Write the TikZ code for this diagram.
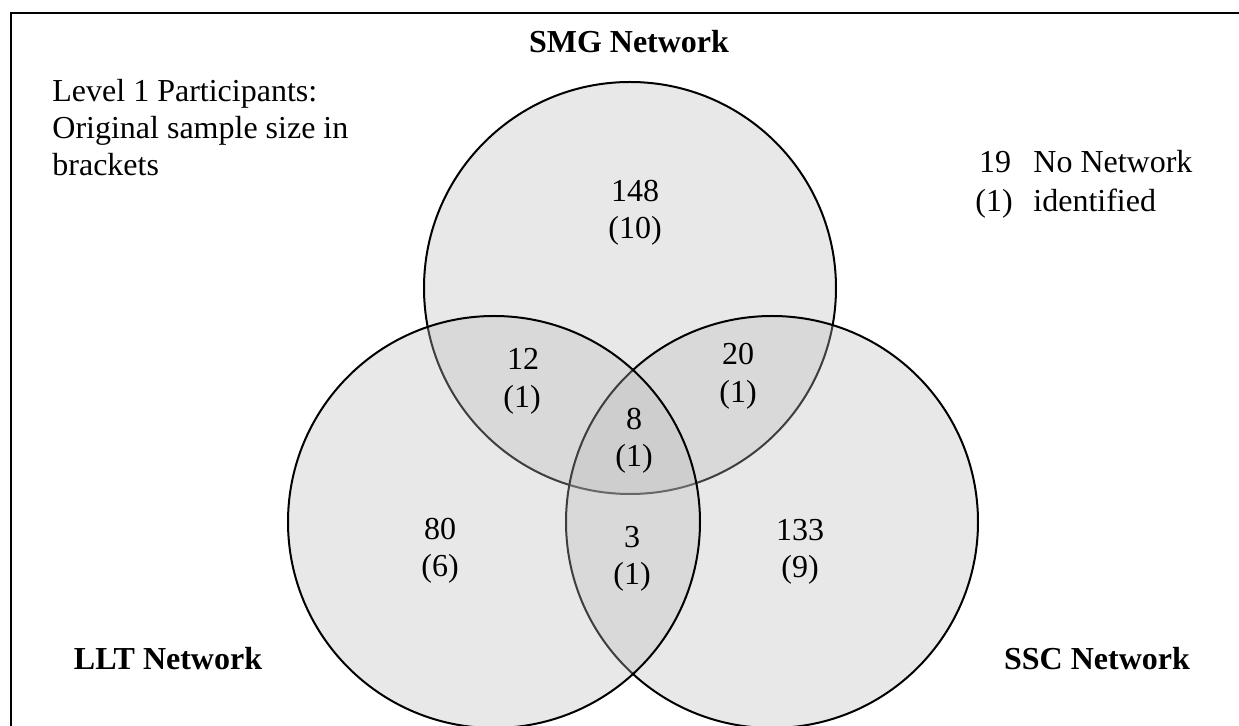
\documentclass[tikz,border=0pt]{standalone}
\usepackage{fontspec}
\setmainfont{Liberation Serif}
\begin{document}
\begin{tikzpicture}[x=0.5pt,y=-0.5pt,
  venn/.style={draw=black,line width=1pt,fill=black!27,fill opacity=0.333},
  lbl/.style={inner sep=0pt,anchor=base,font=\fontsize{16pt}{19pt}\selectfont},
  lbll/.style={lbl,anchor=base west},
  ttl/.style={lbl,font=\fontsize{16pt}{19pt}\selectfont\bfseries}]
\useasboundingbox (0,0) rectangle (1239,726);
\clip (0,0) rectangle (1239,726);
\draw[line width=1pt] (11,13) rectangle (1300,800);
% circles, drawn in order SMG, SSC, LLT
\draw[venn] (630,288) circle[radius=206];
\draw[venn] (772,522) circle[radius=206];
\draw[venn] (494,522) circle[radius=206];
% titles
\node[ttl] (smg) at (629,53) {SMG Network};
\node[ttl] (llt) at (168,670) {LLT Network};
\node[ttl] (ssc) at (1097,670) {SSC Network};
% legend
\node[lbll] (lev1) at (52,102) {Level 1 Participants:};
\node[lbll] (lev2) at (52,139) {Original sample size in};
\node[lbll] (lev3) at (52,176) {brackets};
% no network
\node[lbl] (nn1) at (995,173) {19};
\node[lbll] (nn2) at (1033,173) {No Network};
\node[lbl] (nn3) at (994,212) {(1)};
\node[lbll] (nn4) at (1033,212) {identified};
% region counts
\node[lbl] (a1) at (635,202) {148};
\node[lbl] (a2) at (635,239) {(10)};
\node[lbl] (b1) at (523,370) {12};
\node[lbl] (b2) at (522,408) {(1)};
\node[lbl] (c1) at (738,365) {20};
\node[lbl] (c2) at (738,403) {(1)};
\node[lbl] (d1) at (634,430) {8};
\node[lbl] (d2) at (634,467) {(1)};
\node[lbl] (e1) at (440,540) {80};
\node[lbl] (e2) at (440,577) {(6)};
\node[lbl] (f1) at (632,548) {3};
\node[lbl] (f2) at (632,585) {(1)};
\node[lbl] (g1) at (800,541) {133};
\node[lbl] (g2) at (800,578) {(9)};
\end{tikzpicture}
\end{document}
